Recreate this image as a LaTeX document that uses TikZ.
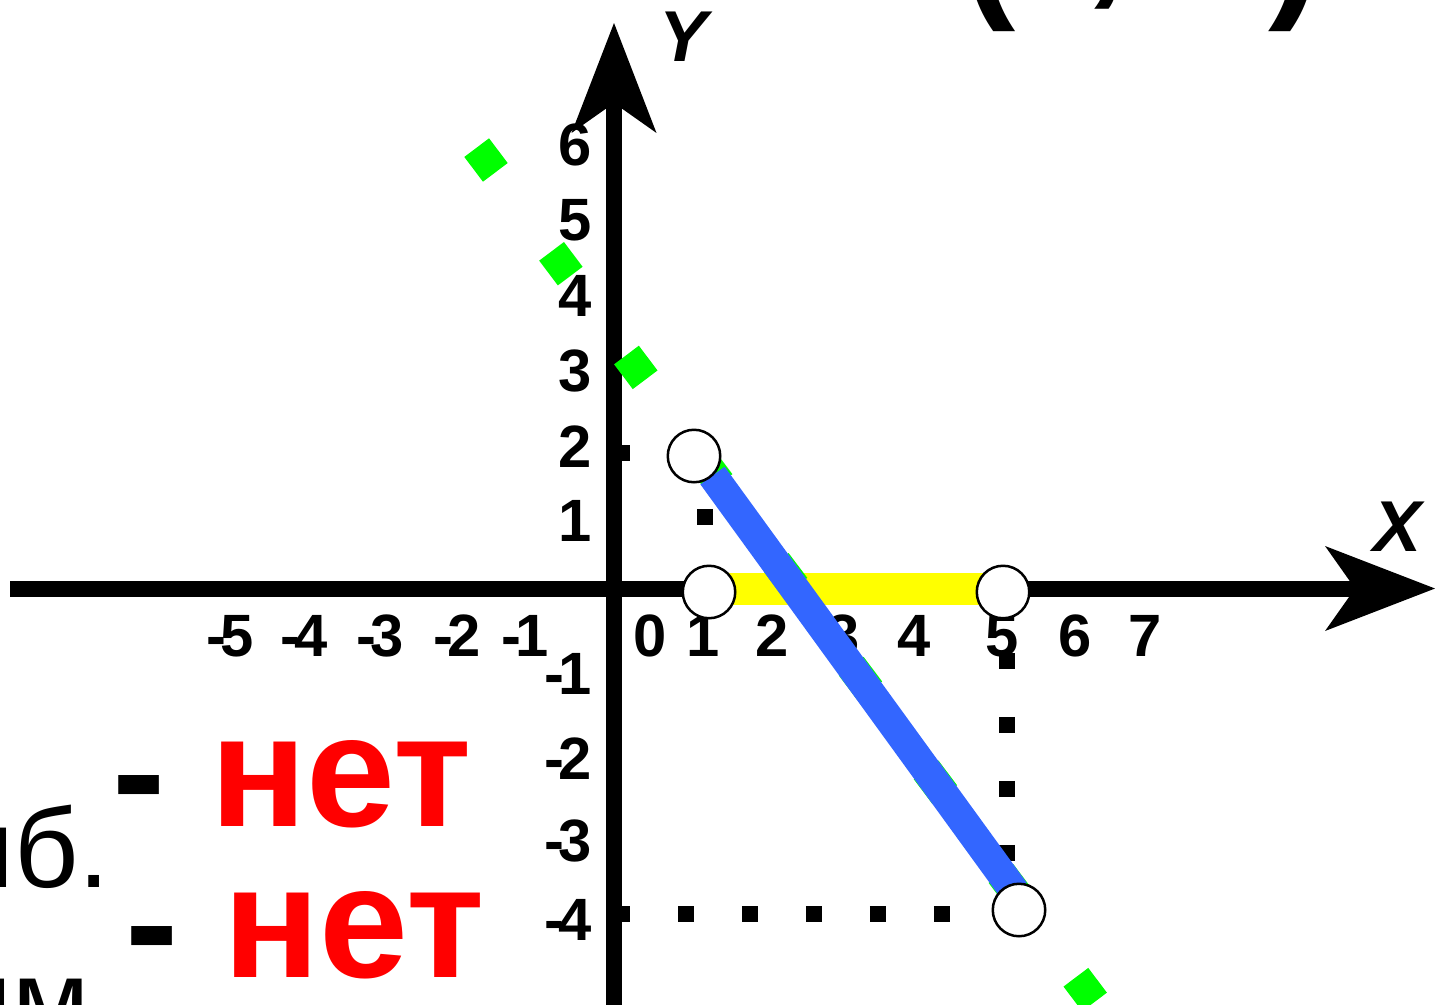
\documentclass[tikz,border=0pt]{standalone}
\usepackage{fontspec}
\setmainfont{Liberation Sans}
\usetikzlibrary{arrows.meta}
\definecolor{ptgreen}{RGB}{0,255,0}
\definecolor{segblue}{RGB}{51,102,255}
\definecolor{bandyellow}{RGB}{255,255,0}
\newcommand\mn{-\kern-0.1em}
\tikzset{
  axis/.style={line width=0.32cm, -{Stealth[length=2.2cm, width=1.7cm, inset=0.6cm, line width=0pt]}},
  tick/.style={font=\fontsize{34}{34}\selectfont\bfseries, inner sep=0pt},
  axlab/.style={font=\fontsize{41}{41}\selectfont\bfseries\itshape, inner sep=0pt},
  ans/.style={font=\fontsize{91}{91}\selectfont\bfseries, text=red, inner sep=0pt},
  note/.style={font=\fontsize{64}{64}\selectfont, inner sep=0pt},
  dots/.style={line width=0.32cm, dash pattern=on 0.32cm off 0.96cm},
  pt/.style={circle, draw, fill=white, line width=0.05cm, minimum size=1.05cm, inner sep=0pt},
  dia/.style={rectangle, fill=ptgreen, minimum size=0.62cm, inner sep=0pt, rotate=37}
}
\begin{document}
\begin{tikzpicture}[x=0.02cm, y=-0.02cm, line join=miter]
\useasboundingbox (0,0) rectangle (1435,1004);
% axes
\draw[axis] (10,588.5) -- (1435,588.5);
\draw[axis] (614,1010) -- (614,23);
\node[axlab] (ylab) at (684,37) {Y};
\node[axlab] (xlab) at (1397,527) {X};
% scale
\foreach \v/\px [count=\i] in {\mn5/230,\mn4/304,\mn3/380,\mn2/457,\mn1/525,0/650,1/703,2/772,3/843,4/914,5/1002,6/1075,7/1145}
  \node[tick] (xl\i) at (\px,636) {\v};
\foreach \v/\py [count=\i] in {6/145,5/220,4/296,3/371,2/447,1/521,\mn1/674,\mn2/759,\mn3/841,\mn4/920}
  \node[tick, anchor=east] (yl\i) at (592,\py) {\v};
% points
\coordinate (p1) at (694,456);
\coordinate (p2) at (1019,910);
\coordinate (q1) at (709,592);
\coordinate (q2) at (1003,592);
\coordinate (b1) at (712.5,475.5);
\coordinate (b2) at (1014.5,891.5);
% projections
\draw[dots] (614,453) -- (694,453);
\draw[dots] (705,445) -- (705,592);
\draw[dots] (614,914) -- (1019,914);
\draw[dots] (1007,589) -- (1007,910);
% range
\draw[bandyellow, line width=0.64cm] (q1 |- 0,589) -- (q2 |- 0,589);
% graph
\foreach \k in {0,...,8}
  \node[dia] (g\k) at ({486+74.9*\k},{160+103.7*\k}) {};
\draw[segblue, line width=0.6cm] (b1) -- (b2);
\node[pt] (c1) at (p1) {};
\node[pt] (c2) at (p2) {};
\node[pt] (c3) at (q1) {};
\node[pt] (c4) at (q2) {};
% answers
\node[note, anchor=base east] (maxl) at (110,887) {Наиб.};
\node[note, anchor=base east] (minl) at (121,1038) {Наим.};
\node[ans, anchor=base west] (maxa) at (112,826) {\textcolor{black}{-} нет};
\node[ans, anchor=base west] (mina) at (125,977) {\textcolor{black}{-} нет};
\node[ans, text=black, anchor=base west] (lp) at (962,-2) {(};
\node[ans, text=black, anchor=base west] (sc) at (1079,-15) {;};
\node[ans, text=black, anchor=base west] (rp) at (1268,-2) {)};
\end{tikzpicture}
\end{document}
